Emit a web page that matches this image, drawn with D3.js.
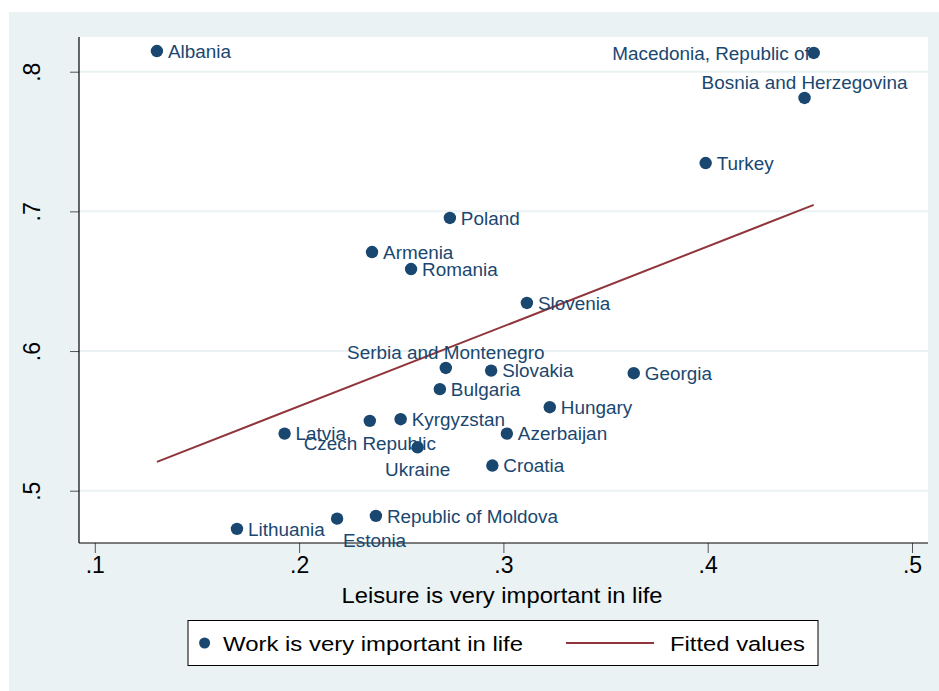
<!DOCTYPE html>
<html>
<head>
<meta charset="utf-8">
<script src="https://cdn.jsdelivr.net/npm/d3@7"></script>
<style>
  body { margin:0; background:#ffffff; }
  text { font-family: "Liberation Sans", Arial, Helvetica, sans-serif; }
</style>
</head>
<body>
<div id="chart"></div>
<script>
// country labels, leisure (x) and work (y) shares
var countries = ["Albania","Macedonia, Republic of","Bosnia and Herzegovina","Turkey","Poland",
  "Armenia","Romania","Slovenia","Serbia and Montenegro","Slovakia","Georgia","Bulgaria",
  "Hungary","Kyrgyzstan","Czech Republic","Latvia","Azerbaijan","Ukraine","Croatia",
  "Lithuania","Estonia","Republic of Moldova"];
var leisure = [0.1304,0.4519,0.4474,0.3990,0.2738,0.2357,0.2548,0.3115,0.2718,0.2940,0.3638,0.2689,
  0.3227,0.2497,0.2346,0.1929,0.3017,0.2580,0.2946,0.1696,0.2186,0.2376];
var work = [0.8148,0.8134,0.7812,0.7346,0.6953,0.6709,0.6587,0.6344,0.5879,0.5860,0.5841,0.5727,
  0.5598,0.5512,0.5500,0.5409,0.5409,0.5311,0.5180,0.4727,0.4800,0.4820];
// marker label position: r = right, l = left, t = above, b = below, br = below right
var labelPos = ["r","l","t","r","r","r","r","r","t","r","r","r",
  "r","r","b","r","r","b","r","r","br","r"];
// fitted line end points
var fitX = [0.1304,0.4519];
var fitY = [0.5206,0.7046];
var xTicks = [0.1,0.2,0.3,0.4,0.5];
var yTicks = [0.5,0.6,0.7,0.8];
var legendLabels = ["Work is very important in life","Fitted values"];
var xTitle = "Leisure is very important in life";

var width = 939, height = 691;
var navy = "#1a476f", maroon = "#90353b", bg = "#eaf2f3";
var plot = {left:79, right:928, top:37, bottom:543};

var svg = d3.select("#chart").append("svg")
  .attr("width", width)
  .attr("height", height);

svg.append("rect").attr("x",9).attr("y",12).attr("width",930).attr("height",679).attr("fill",bg);
svg.append("rect").attr("x",plot.left).attr("y",plot.top)
  .attr("width",plot.right-plot.left).attr("height",plot.bottom-plot.top).attr("fill","#ffffff");

var xScale = d3.scaleLinear().domain([0.1,0.5]).range([94.8,912]);
var yScale = d3.scaleLinear().domain([0.5,0.8]).range([490.7,71.7]);

function fmt(d){ return d3.format(".1f")(d).replace(/^0/,""); }

// grid
svg.append("g").selectAll("line")
  .data(yTicks)
  .enter().append("line")
  .attr("x1",plot.left).attr("x2",plot.right)
  .attr("y1",function(d){ return yScale(d); })
  .attr("y2",function(d){ return yScale(d); })
  .attr("stroke",bg).attr("stroke-width",2);

// x axis
var xAxis = d3.axisBottom(xScale).tickValues(xTicks).tickFormat(fmt).tickSize(10).tickSizeOuter(0);
var gx = svg.append("g").attr("transform","translate(0,"+plot.bottom+")").call(xAxis);
gx.select(".domain").remove();
gx.selectAll(".tick line").attr("stroke","#555555");
gx.selectAll(".tick text").attr("font-size",23).attr("fill","#000").attr("y",14)
  .attr("font-family","Liberation Sans, Arial, sans-serif");

// y axis
var yAxis = d3.axisLeft(yScale).tickValues(yTicks).tickFormat(fmt).tickSize(9).tickSizeOuter(0);
var gy = svg.append("g").attr("transform","translate("+plot.left+",0)").call(yAxis);
gy.select(".domain").remove();
gy.selectAll(".tick line").attr("stroke","#555555");
gy.selectAll(".tick text")
  .attr("font-size",23).attr("fill","#000")
  .attr("font-family","Liberation Sans, Arial, sans-serif")
  .attr("x",null).attr("dy",null)
  .attr("text-anchor","middle")
  .attr("transform","translate(-39,0) rotate(-90)");

svg.append("line").attr("x1",plot.left).attr("x2",plot.left)
  .attr("y1",plot.top).attr("y2",plot.bottom).attr("stroke","#000").attr("stroke-width",1.2);
svg.append("line").attr("x1",plot.left).attr("x2",plot.right)
  .attr("y1",plot.bottom).attr("y2",plot.bottom).attr("stroke","#000").attr("stroke-width",1.2);

svg.append("text").attr("x",502).attr("y",603).attr("text-anchor","middle")
  .attr("font-size",22).attr("textLength",321).attr("lengthAdjust","spacingAndGlyphs")
  .text(xTitle);

// fitted line
var fitData = fitX.map(function(d,i){ return {x:d, y:fitY[i]}; });
svg.append("path").datum(fitData)
  .attr("fill","none").attr("stroke",maroon).attr("stroke-width",2)
  .attr("d", d3.line().x(function(d){ return xScale(d.x); }).y(function(d){ return yScale(d.y); }));

// points
var data = countries.map(function(c,i){ return {name:c, x:leisure[i], y:work[i], pos:labelPos[i]}; });
var pts = svg.append("g").selectAll("g")
  .data(data)
  .enter().append("g")
  .attr("transform",function(d){ return "translate("+xScale(d.x)+","+yScale(d.y)+")"; });
pts.append("circle").attr("r",6.2).attr("fill",navy);
pts.append("text")
  .attr("font-size",18.9).attr("fill",navy)
  .attr("dy","0.36em")
  .attr("x",function(d){
    if(d.pos=="r") return 11;
    if(d.pos=="l") return -4;
    if(d.pos=="br") return 6;
    return 0;
  })
  .attr("y",function(d){
    if(d.pos=="t") return -16;
    if(d.pos=="b" || d.pos=="br") return 22;
    return 0;
  })
  .attr("text-anchor",function(d){
    if(d.pos=="l") return "end";
    if(d.pos=="t" || d.pos=="b") return "middle";
    return "start";
  })
  .text(function(d){ return d.name; });

// legend
var lg = svg.append("g");
lg.append("rect").attr("x",188).attr("y",620.5).attr("width",630).attr("height",45)
  .attr("fill","#fff").attr("stroke","#000").attr("stroke-width",1);
lg.append("circle").attr("cx",204.6).attr("cy",643).attr("r",5.5).attr("fill",navy);
lg.append("text").attr("x",223).attr("y",650.5).attr("font-size",20.5)
  .attr("textLength",300).attr("lengthAdjust","spacingAndGlyphs").text(legendLabels[0]);
lg.append("line").attr("x1",566).attr("x2",654).attr("y1",643).attr("y2",643)
  .attr("stroke",maroon).attr("stroke-width",2);
lg.append("text").attr("x",670).attr("y",650.5).attr("font-size",20.5)
  .attr("textLength",135).attr("lengthAdjust","spacingAndGlyphs").text(legendLabels[1]);
</script>
</body>
</html>
